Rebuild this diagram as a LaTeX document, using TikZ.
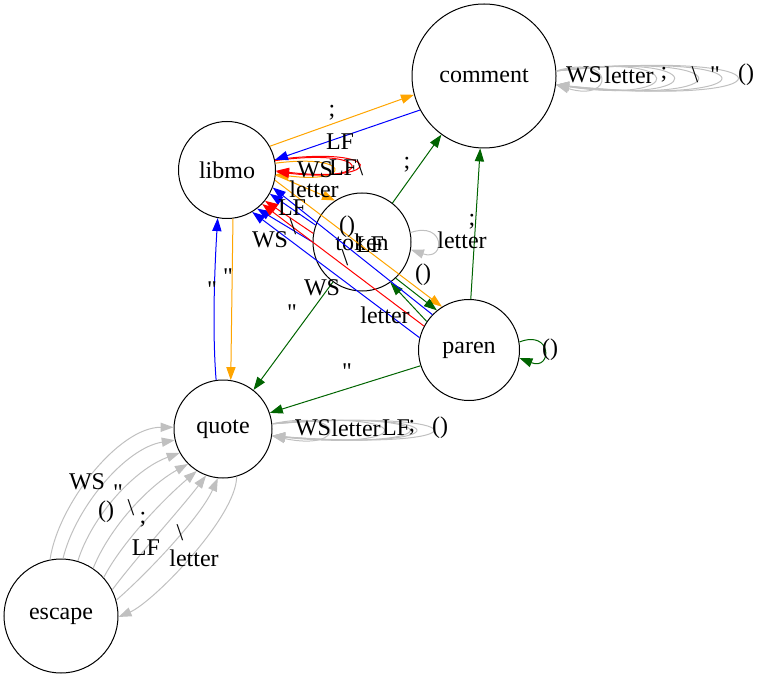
\documentclass[tikz,border=0pt]{standalone}
\usepackage{fontspec}
\setmainfont{Liberation Serif}[Ligatures=TeXOff]
\usetikzlibrary{arrows.meta}
\definecolor{orng}{HTML}{FFA500}
\definecolor{dkgreen}{HTML}{006400}
\definecolor{gry}{HTML}{C0C0C0}
\tikzset{
  state/.style={circle, draw, inner sep=0pt, line width=0.5pt, font=\fontsize{12}{14}\selectfont},
  lbl/.style={inner sep=0pt, font=\fontsize{12}{14}\selectfont},
  arr/.style={line width=0.5pt, -{Triangle[length=6.5pt,width=4.6pt]}},
}
\begin{document}
\begin{tikzpicture}[x=0.5pt, y=-0.5pt]
\useasboundingbox (0,0) rectangle (759,678);
% states
\node[state, minimum size=72pt] (comment) at (484,76) {comment};
\node[state, minimum size=48.5pt] (libmo) at (227,170) {libmo};
\node[state, minimum size=49pt] (token) at (362,242) {token};
\node[state, minimum size=50.5pt] (paren) at (469,350) {paren};
\node[state, minimum size=49pt] (quote) at (223,429) {quote};
\node[state, minimum size=57pt] (escape) at (61,616) {escape};
% libmo
\draw[arr, orng] (libmo.29) -- (comment.195);
\draw[arr, orng] (libmo.-6) -- (token.123);
\draw[arr, orng] (libmo.-12) -- (paren.122);
\draw[arr, orng] (libmo.-83) -- (quote.81);
\draw[arr, orng] (libmo.8) .. controls +(77,-10) and +(77,10) .. (libmo.-5);
\draw[arr, red] (libmo.11) .. controls +(100,-14) and +(100,12) .. (libmo.-2);
\draw[arr, red] (libmo.12) .. controls +(111,-15) and +(111,13) .. (libmo.-1);
% comment
\draw[arr, blue] (comment.208) -- (libmo.12);
\foreach \c/\h in {59/18, 132/20, 156/21, 188/22, 219/23, 241/24}
  \draw[arr, gry] (comment.4) .. controls +(\c,-\h) and +(\c,\h) .. (comment.-7);
% token
\draw[arr, dkgreen] (token.52) -- (comment.234);
\draw[arr, dkgreen] (token.234) -- (quote.52);
\draw[arr, dkgreen] (token.-47) -- (paren.129);
\draw[arr, blue] (token.160) -- (libmo.-29);
\draw[arr, red] (token.170) -- (libmo.-39);
\draw[arr, blue] (token.180) -- (libmo.-52);
\draw[arr, gry] (token.11) .. controls +(35,-12) and +(35,12) .. (token.-9);
% paren
\draw[arr, dkgreen] (paren.88) -- (comment.267);
\draw[arr, dkgreen] (paren.198) -- (quote.19);
\draw[arr, dkgreen] (paren.146) -- (token.-55);
\draw[arr, blue] (paren.136) -- (libmo.-21);
\draw[arr, red] (paren.152) -- (libmo.-44);
\draw[arr, blue] (paren.166) -- (libmo.-59);
\draw[arr, dkgreen] (paren.9) .. controls +(33,-13) and +(33,13) .. (paren.-9);
% quote
\draw[arr, blue] (quote.98) .. controls +(-4,-50) and +(-3,50) .. (libmo.-101);
\foreach \c in {75, 148, 182, 191, 214}
  \draw[arr, gry] (quote.6) .. controls +(\c,-16) and +(\c,16) .. (quote.-8);
\draw[arr, gry] (quote.286) .. controls +(0,40) and +(35,-15) .. (escape.-1);
% escape
\draw[arr, gry] (escape.101) .. controls +(8,-55) and +(-55,0) .. (quote.178);
\draw[arr, gry] (escape.88) .. controls +(12,-50) and +(-50,8) .. (quote.193);
\draw[arr, gry] (escape.73) .. controls +(14,-45) and +(-45,16) .. (quote.209);
\draw[arr, gry] (escape.56) .. controls +(16,-40) and +(-40,22) .. (quote.225);
\draw[arr, gry] (escape.42) .. controls +(18,-35) and +(-33,28) .. (quote.238);
\draw[arr, gry] (escape.27) .. controls +(22,-30) and +(-25,33) .. (quote.250);
\draw[arr, gry] (escape.16) .. controls +(28,-24) and +(-18,40) .. (quote.264);
% labels
\node[lbl] (l-lc) at (332,113) {;};
\node[lbl] (l-cl) at (340,142) {LF};
\node[lbl] (l-ll1) at (315,170) {WS};
\node[lbl] (l-ll2) at (343,168) {LF};
\node[lbl] (l-ll3) at (360,168) {\textbackslash};
\node[lbl] (l-lt) at (314,189) {letter};
\node[lbl] (l-lp) at (347,227) {()};
\node[lbl] (l-tl1) at (292,208) {LF};
\node[lbl] (l-tl2) at (293,227) {\textbackslash};
\node[lbl] (l-tl3) at (270,240) {WS};
\node[lbl] (l-pl1) at (370,245) {LF};
\node[lbl] (l-pl2) at (345,258) {\textbackslash};
\node[lbl] (l-pl3) at (322,288) {WS};
\node[lbl] (l-tc) at (407,165) {;};
\node[lbl] (l-pc) at (472,222) {;};
\node[lbl] (l-tt) at (462,240) {letter};
\node[lbl] (l-pp) at (550,350) {()};
\node[lbl] (l-tp) at (423,275) {()};
\node[lbl] (l-pt) at (385,315) {letter};
\node[lbl] (l-tq) at (292,313) {"};
\node[lbl] (l-pq) at (347,372) {"};
\node[lbl] (l-lq) at (228,277) {"};
\node[lbl] (l-ql) at (212,290) {"};
\node[lbl] (l-cc1) at (584,75) {WS};
\node[lbl] (l-cc2) at (629,75) {letter};
\node[lbl] (l-cc3) at (664,75) {;};
\node[lbl] (l-cc4) at (695,75) {\textbackslash};
\node[lbl] (l-cc5) at (715,75) {"};
\node[lbl] (l-cc6) at (746,75) {()};
\node[lbl] (l-qq1) at (313,428) {WS};
\node[lbl] (l-qq2) at (356,428) {letter};
\node[lbl] (l-qq3) at (396,428) {LF};
\node[lbl] (l-qq4) at (412,428) {;};
\node[lbl] (l-qq5) at (440,428) {()};
\node[lbl] (l-eq1) at (87,482) {WS};
\node[lbl] (l-eq2) at (106,512) {()};
\node[lbl] (l-eq3) at (118,493) {"};
\node[lbl] (l-eq4) at (131,508) {\textbackslash};
\node[lbl] (l-eq5) at (143,520) {;};
\node[lbl] (l-eq6) at (146,548) {LF};
\node[lbl] (l-qe) at (180,533) {\textbackslash};
\node[lbl] (l-eq7) at (194,558) {letter};
\end{tikzpicture}
\end{document}
